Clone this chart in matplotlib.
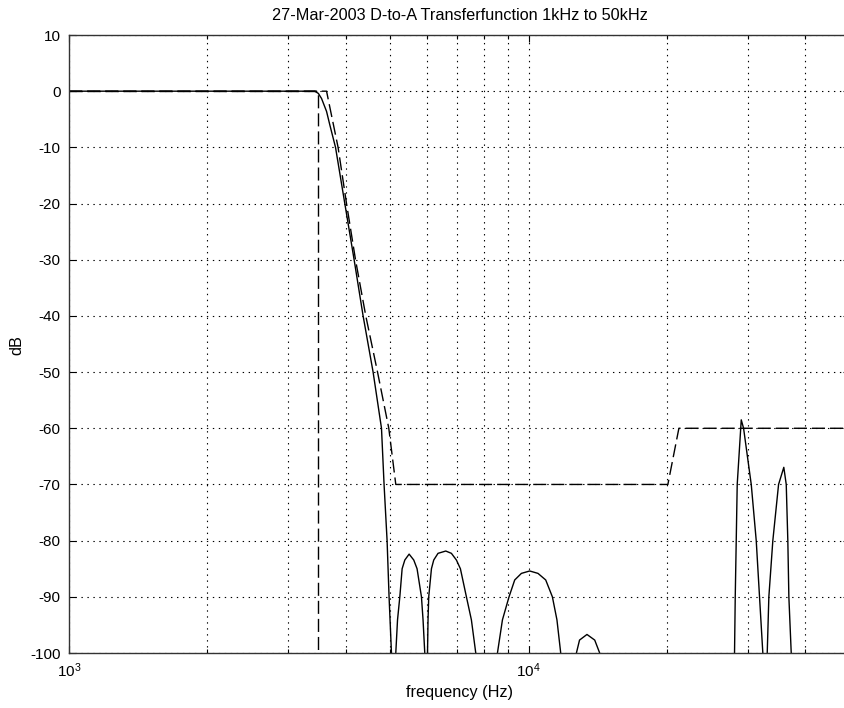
import numpy as np
import matplotlib
matplotlib.use("Agg")
import matplotlib.pyplot as plt
from matplotlib.ticker import LogLocator, NullFormatter

plt.rcParams['font.family'] = ['Liberation Sans', 'DejaVu Sans']
plt.rcParams['lines.scale_dashes'] = False
plt.rcParams['axes.unicode_minus'] = False

# ---- data (Hz, dB) ----
title = "27-Mar-2003 D-to-A Transferfunction 1kHz to 50kHz"

# measured response (solid); NaN separates lobes that dip below -100 dB
resp_f = [1000, 3342, 3426, 3487, 3543, 3633, 3693, 3800, 3981, 4171, 4363, 4587, 4784, 4846, 4920, 4969, 5029,
          np.nan,
          5139, 5184, 5244, 5305, 5377, 5494, 5623, 5717, 5844, 5891, 5942,
          np.nan,
          6024, 6040, 6061, 6144, 6215, 6350, 6601, 6790, 6962, 7103, 7320, 7505, 7671,
          np.nan,
          8551, 8768, 9062, 9324, 9641, 10050, 10477, 10890, 11260, 11520, 11740,
          np.nan,
          12700, 12900, 13390, 13920, 14270,
          np.nan,
          28040, 28140, 28280, 28420, 29000, 29340, 30490, 31260, 31780, 32310,
          np.nan,
          33030, 33300, 33970, 34960, 35890, 36330, 36620, 36810, 37250]
resp_db = [0, 0, 0, -0.4, -1.3, -3.6, -6.0, -10, -20, -30, -40, -50, -60, -70, -80, -90, -100,
           np.nan,
           -100, -94.1, -90, -85, -83.45, -82.4, -83.45, -85, -90, -94.1, -100,
           np.nan,
           -100, -94.1, -90, -85, -83.45, -82.26, -81.85, -82.26, -83.45, -85, -90, -94.1, -100,
           np.nan,
           -100, -94.1, -90, -87, -85.83, -85.4, -85.83, -87, -90, -94.1, -100,
           np.nan,
           -100, -97.7, -96.7, -97.7, -100,
           np.nan,
           -100, -90, -80, -70, -58.5, -60, -70, -80, -90, -100,
           np.nan,
           -100, -90, -80, -70, -66.95, -70, -80, -90, -100]

# specification mask (dashed)
mask_f = [1000, 3633, 3849, 4015, 4200, 4422, 4690, 4962, 5139, 20080, 21220, 50000]
mask_db = [0, 0, -10, -20, -30, -40, -50, -60, -70, -70, -60, -60]

# cutoff marker (dashed)
cut_f = [1000, 3473, 3473]
cut_db = [0, 0, -110]

xlim = (1000, 50000)
ylim = (-100, 10)
yticks = list(range(-100, 11, 10))

# ---- figure ----
W, H = 844, 708
fig = plt.figure(figsize=(W / 100, H / 100), dpi=100)
ax = fig.add_axes([69 / W, (H - 653) / H, (850 - 69) / W, (653 - 35) / H])

ax.plot(resp_f, resp_db, color='black', lw=1.0)
ax.plot(mask_f, mask_db, color='black', lw=1.0, linestyle=(0, (9.4, 3.6)))
ax.plot(cut_f, cut_db, color='black', lw=1.0, linestyle=(0, (9.4, 3.6)))

ax.set_xscale('log')
ax.set_xlim(*xlim)
ax.set_ylim(*ylim)
ax.set_yticks(yticks)
ax.xaxis.set_major_locator(LogLocator(base=10, numticks=10))
ax.xaxis.set_minor_locator(LogLocator(base=10, subs=np.arange(2, 10), numticks=20))
ax.xaxis.set_minor_formatter(NullFormatter())

gkw = dict(color='black', lw=0.8, linestyle=(0, (1.0, 3.3)))
ax.grid(True, which='major', axis='both', **gkw)
ax.grid(True, which='minor', axis='x', **gkw)

ax.tick_params(which='both', direction='in', top=True, right=True,
               labelsize=11, colors='black')
ax.tick_params(which='major', length=5, width=0.8, pad=6)
ax.tick_params(which='minor', length=3, width=0.8)
for s in ax.spines.values():
    s.set_color('#333333')
    s.set_linewidth(1.0)

fig.text(459.5 / W, 1 - 16 / H, title, ha='center', va='center', fontsize=11.7)
fig.text(459.5 / W, 1 - 693 / H, "frequency (Hz)", ha='center', va='center', fontsize=11.7)
fig.text(17 / W, 1 - 345 / H, "dB", ha='center', va='center', rotation=90, fontsize=11.7)

fig.savefig("out.png", dpi=100)
